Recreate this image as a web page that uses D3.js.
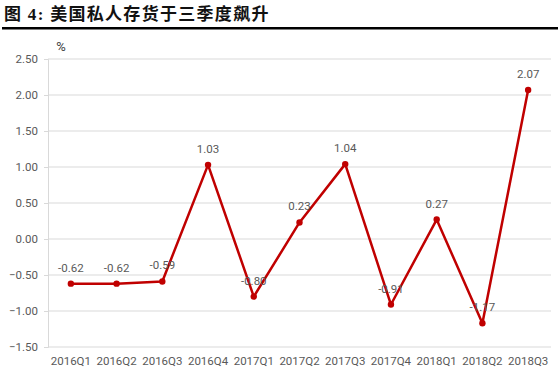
<!DOCTYPE html>
<html><head><meta charset="utf-8">
<script src="https://cdn.jsdelivr.net/npm/d3@7/dist/d3.min.js"></script>
<style>body{margin:0;background:#fff;}svg{display:block;}</style>
</head><body>
<svg id="c" width="558" height="375"></svg>
<script>
const categories = ["2016Q1","2016Q2","2016Q3","2016Q4","2017Q1","2017Q2","2017Q3","2017Q4","2018Q1","2018Q2","2018Q3"];
const values = [-0.62,-0.62,-0.59,1.03,-0.80,0.23,1.04,-0.91,0.27,-1.17,2.07];
const yTicks = [-1.5,-1.0,-0.5,0,0.5,1.0,1.5,2.0,2.5];
const titleText = "图 4: 美国私人存货于三季度飙升";
const unitText = "%";

const svg = d3.select("#c");
const m = {left:48, right:551, top:59, bottom:347};
const x = d3.scaleBand().domain(categories).range([m.left, m.right]);
const y = d3.scaleLinear().domain([-1.5, 2.5]).range([m.bottom, m.top]);

svg.append("text").attr("x",4).attr("y",20)
  .attr("font-family","'Liberation Serif','Noto Sans CJK SC',serif")
  .attr("font-weight","bold").attr("font-size",17).attr("letter-spacing",1.3).attr("fill","#111")
  .text(titleText);
svg.append("rect").attr("x",2).attr("y",27).attr("width",556).attr("height",2.5).attr("fill","#000");

// gridlines
svg.append("g").selectAll("line").data(yTicks).join("line")
  .attr("x1",m.left).attr("x2",m.right)
  .attr("y1",d=>y(d)).attr("y2",d=>y(d))
  .attr("stroke","#d9d9d9").attr("stroke-width",1);

// y axis
const yAxis = d3.axisLeft(y).tickValues(yTicks).tickFormat(d3.format(".2f")).tickSize(4).tickPadding(6);
const ga = svg.append("g").attr("transform",`translate(${m.left},0)`).call(yAxis);
ga.select(".domain").attr("stroke","#d9d9d9");
ga.selectAll(".tick line").attr("stroke","#d9d9d9");
ga.selectAll(".tick text").attr("font-family","Roboto, 'Open Sans', sans-serif").attr("font-size",11.5).attr("fill","#595959");

// x axis labels
const xAxis = d3.axisBottom(x).tickSize(0).tickPadding(10);
const gx = svg.append("g").attr("transform",`translate(0,${m.bottom})`).call(xAxis);
gx.select(".domain").remove();
gx.selectAll(".tick text").attr("font-family","Roboto, 'Open Sans', sans-serif").attr("font-size",11.5).attr("fill","#595959");

svg.append("text").attr("x",61).attr("y",51).attr("text-anchor","middle")
  .attr("font-family","Roboto, 'Open Sans', sans-serif").attr("font-size",13).attr("fill","#404040").text(unitText);

const cx = d => x(d) + x.bandwidth()/2;
const line = d3.line().x((d,i)=>cx(categories[i])).y(d=>y(d));
svg.append("path").datum(values).attr("d",line).attr("fill","none")
  .attr("stroke","#C00000").attr("stroke-width",2.5).attr("stroke-linejoin","round");
svg.append("g").selectAll("circle").data(values).join("circle")
  .attr("cx",(d,i)=>cx(categories[i])).attr("cy",d=>y(d)).attr("r",3.2).attr("fill","#C00000");
svg.append("g").selectAll("text").data(values).join("text")
  .attr("x",(d,i)=>cx(categories[i])).attr("y",d=>y(d)-12)
  .attr("text-anchor","middle")
  .attr("font-family","Roboto, 'Open Sans', sans-serif").attr("font-size",11.5).attr("fill","#595959")
  .text(d=>d.toFixed(2));
</script>
</body></html>
